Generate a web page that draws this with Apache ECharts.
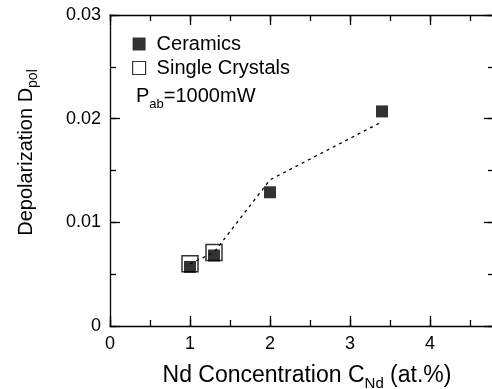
<!DOCTYPE html>
<html>
<head>
<meta charset="utf-8">
<script src="https://cdn.jsdelivr.net/npm/echarts@6/dist/echarts.min.js"></script>
<style>html,body{margin:0;padding:0;background:#fff}#c{width:492px;height:389px}</style>
</head>
<body>
<div id="c"></div>
<script>
// Data
var ceramicsX = [1.0, 1.3, 2.0, 3.4];
var ceramicsY = [0.0057, 0.0068, 0.0129, 0.0207];
var crystalsX = [1.0, 1.3];
var crystalsY = [0.0060, 0.0071];
var fitX = [1.0, 1.3, 2.0, 3.4];
var fitY = [0.0060, 0.0071, 0.0141, 0.0197];
var xTickLabels = ['0', '1', '2', '3', '4'];
var yTickLabels = ['0', '0.01', '0.02', '0.03'];

function pairs(xs, ys) { return xs.map(function (x, i) { return [x, ys[i]]; }); }

var FONT = 'Liberation Sans, Arial, sans-serif';
var XMAX = 4.8;
var chart = echarts.init(document.getElementById('c'));

function xAxisDef(pos, interval, tickLen, showLabel, showLine) {
  return {
    type: 'value', position: pos, min: 0, max: XMAX, interval: interval,
    axisLine: { show: showLine, onZero: false, lineStyle: { color: '#000', width: 1.3 } },
    axisTick: { show: true, inside: true, length: tickLen, lineStyle: { color: '#000', width: 1.3 } },
    axisLabel: {
      show: showLabel, showMaxLabel: false, margin: 9, color: '#000', fontSize: 18, fontFamily: FONT,
      formatter: function (v) { var i = Math.round(v); return Math.abs(v - i) < 1e-6 ? (xTickLabels[i] || '') : ''; }
    },
    splitLine: { show: false }
  };
}
function yAxisDef(pos, interval, tickLen, showLabel, showLine) {
  return {
    type: 'value', position: pos, min: 0, max: 0.03, interval: interval,
    axisLine: { show: showLine, onZero: false, lineStyle: { color: '#000', width: 1.3 } },
    axisTick: { show: true, inside: true, length: tickLen, lineStyle: { color: '#000', width: 1.3 } },
    axisLabel: {
      show: showLabel, margin: 9, color: '#000', fontSize: 18, fontFamily: FONT,
      formatter: function (v) { return yTickLabels[Math.round(v / 0.01)]; }
    },
    splitLine: { show: false }
  };
}

var xMain = xAxisDef('bottom', 1, 10, true, true);
xMain.name = '{t|Nd Concentration C}{s|Nd}{t| (at.%)}';
xMain.nameLocation = 'middle';
xMain.nameGap = 38;
xMain.nameTextStyle = {
  padding: [0, 0, 0, 10],
  rich: {
    t: { fontSize: 23, fontFamily: FONT, color: '#000' },
    s: { fontSize: 15, fontFamily: FONT, color: '#000', verticalAlign: 'bottom', padding: [0, 0, -4, 0] }
  }
};

var yMain = yAxisDef('left', 0.01, 10, true, true);
yMain.name = '{t|Depolarization D}{s|pol}';
yMain.nameLocation = 'middle';
yMain.nameGap = 74;
yMain.nameTextStyle = {
  padding: [0, 0, 0, 36],
  rich: {
    t: { fontSize: 20, fontFamily: FONT, color: '#000' },
    s: { fontSize: 14, fontFamily: FONT, color: '#000', verticalAlign: 'bottom', padding: [0, 0, -4, 0] }
  }
};

var option = {
  backgroundColor: '#fff',
  animation: false,
  grid: { left: 110, top: 15, width: 384, height: 311, outerBoundsMode: 'none', containLabel: false },
  xAxis: [
    xMain,
    xAxisDef('bottom', 0.5, 6, false, false),
    xAxisDef('top', 1, 10, false, true),
    xAxisDef('top', 0.5, 6, false, false)
  ],
  yAxis: [
    yMain,
    yAxisDef('left', 0.005, 6, false, false),
    yAxisDef('right', 0.01, 10, false, true),
    yAxisDef('right', 0.005, 6, false, false)
  ],
  legend: {
    orient: 'vertical', left: 127, top: 29, itemGap: 4, itemWidth: 13, itemHeight: 13,
    textStyle: { fontSize: 20, fontFamily: FONT, color: '#000', padding: [0, 0, 0, 6] },
    data: [
      { name: 'Ceramics', icon: 'rect', itemStyle: { color: '#000', borderWidth: 0 } },
      { name: 'Single Crystals', icon: 'rect', itemStyle: { color: '#fff', borderColor: '#000', borderWidth: 1.2 } }
    ]
  },
  graphic: [{
    type: 'text', left: 136, top: 86,
    style: {
      text: '{t|P}{s|ab}{t|=1000mW}',
      rich: {
        t: { fontSize: 20, fontFamily: FONT, fill: '#000' },
        s: { fontSize: 13, fontFamily: FONT, fill: '#000', verticalAlign: 'bottom', padding: [0, 0, -5, 0] }
      }
    }
  }],
  series: [
    {
      name: 'fit', type: 'line', xAxisIndex: 0, yAxisIndex: 0, data: pairs(fitX, fitY),
      showSymbol: false, symbol: 'none', z: 1,
      lineStyle: { color: '#000', width: 1.3, type: [3, 4] }
    },
    {
      name: 'Single Crystals', type: 'scatter', xAxisIndex: 0, yAxisIndex: 0, data: pairs(crystalsX, crystalsY),
      symbol: 'rect', symbolSize: 16, z: 2,
      itemStyle: { color: 'rgba(0,0,0,0)', borderColor: '#000', borderWidth: 1.5 }
    },
    {
      name: 'Ceramics', type: 'scatter', xAxisIndex: 0, yAxisIndex: 0, data: pairs(ceramicsX, ceramicsY),
      symbol: 'rect', symbolSize: 12, z: 3,
      itemStyle: { color: '#000' }
    }
  ]
};
chart.setOption(option);
</script>
</body>
</html>
